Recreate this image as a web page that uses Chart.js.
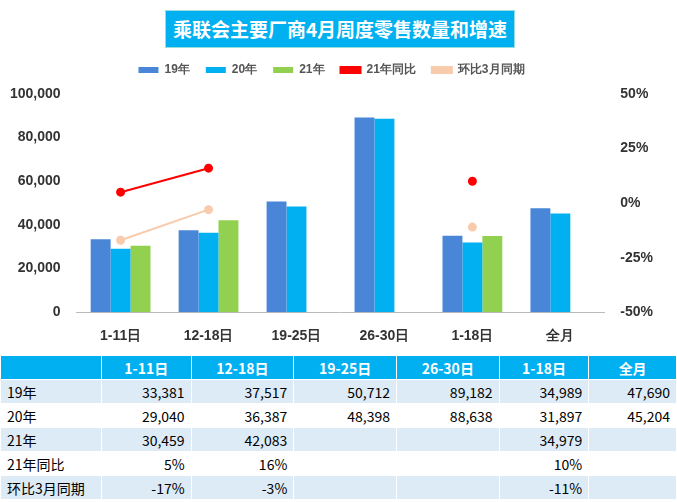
<!DOCTYPE html>
<html><head><meta charset="utf-8">
<script src="https://cdn.jsdelivr.net/npm/chart.js"></script>
<style>
body{margin:0;width:677px;height:502px;background:#fff;font-family:"Microsoft YaHei","Noto Sans CJK SC",sans-serif;overflow:hidden;position:relative}
#title{position:absolute;left:165px;top:10px;width:348px;height:36px;background:#00B0F0;color:#fff;font-weight:bold;font-size:19px;line-height:36px;text-align:center;border:1px solid #9dd;}
#wrap{position:absolute;left:0;top:48px;width:677px;height:305px}
table{position:absolute;left:0;top:355px;width:677px;border-collapse:collapse;font-size:14px;font-family:"Noto Sans CJK SC",sans-serif}
td{height:23px;padding:0 6px;border:1px solid #fff;text-align:right;color:#000}
td:first-child{text-align:left;width:88px}
tr.h td{background:#00B0F0;color:#fff;font-weight:bold;text-align:center}
tr.b td{background:#DDEBF7}
</style></head><body>
<div id="title">乘联会主要厂商4月周度零售数量和增速</div>
<div id="wrap"><canvas id="c" width="677" height="305"></canvas></div>
<table id="t"></table>
<script>
const categories=["1-11日","12-18日","19-25日","26-30日","1-18日","全月"];
const y19=[33381,37517,50712,89182,34989,47690];
const y20=[29040,36387,48398,88638,31897,45204];
const y21=[30459,42083,null,null,34979,null];
const yoy21=[5,16,null,null,10,null];
const mom=[-17,-3,null,null,-11,null];
const leftTicks=[0,20000,40000,60000,80000,100000];
const rightTicks=[-50,-25,0,25,50];
new Chart(document.getElementById('c'),{
data:{labels:categories,datasets:[
{type:'line',label:'21年同比',data:yoy21,yAxisID:'y1',borderColor:'#FF0000',backgroundColor:'#FF0000',pointRadius:3.5,borderWidth:2,order:0},
{type:'line',label:'环比3月同期',data:mom,yAxisID:'y1',borderColor:'#F8CBAD',backgroundColor:'#F8CBAD',pointRadius:3.5,borderWidth:2,order:0},
{type:'bar',label:'19年',data:y19,backgroundColor:'#4A86D8',yAxisID:'y',order:1},
{type:'bar',label:'20年',data:y20,backgroundColor:'#00B0F0',yAxisID:'y',order:1},
{type:'bar',label:'21年',data:y21,backgroundColor:'#92D050',yAxisID:'y',order:1}
]},
options:{responsive:false,animation:false,
layout:{padding:{left:2,right:16,top:0,bottom:0}},
datasets:{bar:{categoryPercentage:0.68,barPercentage:1}},
plugins:{legend:{position:'top',labels:{boxWidth:20,boxHeight:6,font:{size:12,weight:'bold'},color:'#555',padding:16,
 sort:(a,b)=>[2,3,4,0,1].indexOf(a.datasetIndex)-[2,3,4,0,1].indexOf(b.datasetIndex)}},tooltip:{enabled:false}},
scales:{
x:{grid:{display:false},border:{color:'#bbb'},ticks:{font:{size:14,weight:'bold'},color:'#333',padding:8}},
y:{min:0,max:100000,afterBuildTicks:a=>{a.ticks=leftTicks.map(v=>({value:v}))},grid:{display:false},border:{display:false},
 ticks:{font:{size:14,weight:'bold'},color:'#333',padding:8,callback:v=>v.toLocaleString('en-US')}},
y1:{position:'right',min:-50,max:50,afterBuildTicks:a=>{a.ticks=rightTicks.map(v=>({value:v}))},grid:{display:false},border:{display:false},
 ticks:{font:{size:14,weight:'bold'},color:'#333',padding:8,callback:v=>v+'%'}}
}},
plugins:[{id:'legendPad',beforeInit(c){const o=c.legend.fit;c.legend.fit=function(){o.bind(c.legend)();this.height+=8;}}}]
});
const rows=[["","1-11日","12-18日","19-25日","26-30日","1-18日","全月"]];
const f=v=>v==null?"":v.toLocaleString('en-US');
const p=v=>v==null?"":v+"%";
rows.push(["19年",...y19.map(f)],["20年",...y20.map(f)],["21年",...y21.map(f)],["21年同比",...yoy21.map(p)],["环比3月同期",...mom.map(p)]);
const t=document.getElementById('t');
rows.forEach((r,i)=>{const tr=document.createElement('tr');tr.className=i==0?'h':(i%2?'b':'');
r.forEach(c=>{const td=document.createElement('td');td.textContent=c;tr.appendChild(td)});t.appendChild(tr)});
</script></body></html>
